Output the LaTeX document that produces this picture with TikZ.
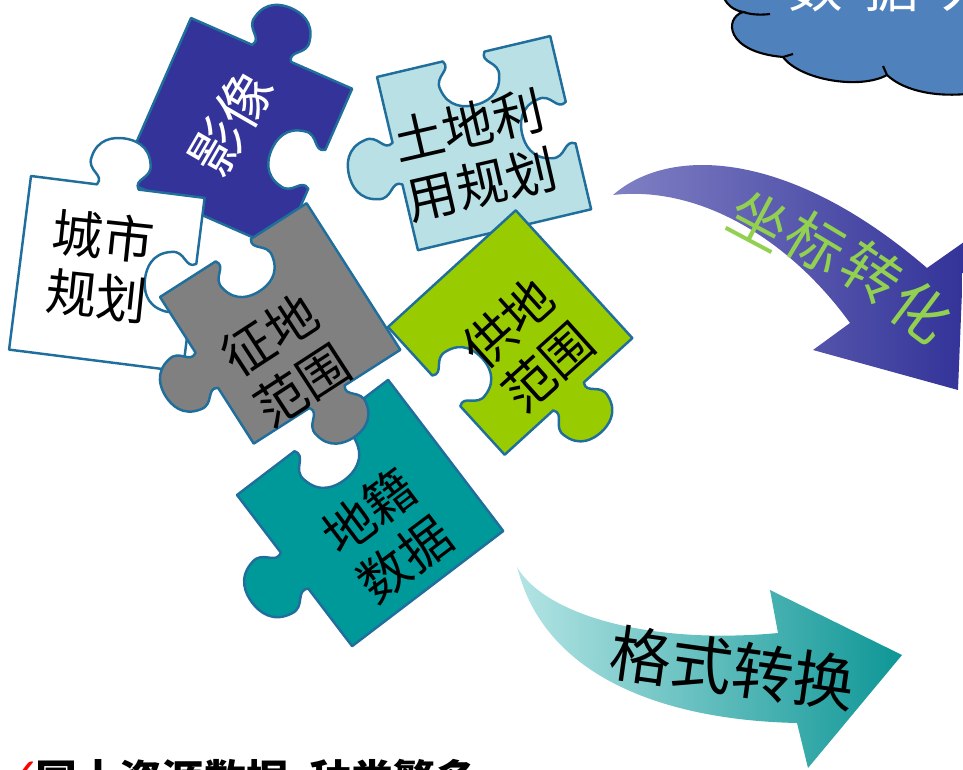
\documentclass[tikz,border=0pt]{standalone}
\usepackage{fontspec}
\setmainfont{Noto Sans CJK SC}
\newfontfamily\symfont{DejaVu Sans}

\definecolor{pieceedge}{HTML}{1F6E9C}
\definecolor{imgblue}{HTML}{333399}
\definecolor{landblue}{HTML}{B9E0E5}
\definecolor{supplygreen}{HTML}{99CC00}
\definecolor{cadastre}{HTML}{009999}
\definecolor{cloudblue}{HTML}{4F81BD}
\definecolor{coordlight}{HTML}{8080C4}
\definecolor{coorddark}{HTML}{333399}
\definecolor{coordtext}{HTML}{92D050}
\definecolor{formatlight}{HTML}{B4E4E4}
\definecolor{formatdark}{HTML}{0E9696}

% points of edge k of a unit piece; s=1 tab, s=-1 blank
\pgfkeys{/knob/.cd,k/.store in=\knobk,s/.store in=\knobs,t/.store in=\knobt,u/.store in=\knobu}
\tikzdeclarecoordinatesystem{knob}{%
  \pgfkeys{/knob/.cd,#1}%
  \pgfmathsetmacro\knobx{.5+(\knobt-.5)*cos(\knobk*90)+(\knobs*\knobu+.5)*sin(\knobk*90)}%
  \pgfmathsetmacro\knoby{.5+(\knobt-.5)*sin(\knobk*90)-(\knobs*\knobu+.5)*cos(\knobk*90)}%
  \pgfpointxy{\knobx}{\knoby}}
\newcommand\pedge[2]{-- (knob cs:k=#1,s=#2,t=.38,u=0)
  .. controls (knob cs:k=#1,s=#2,t=.42,u=.06) and (knob cs:k=#1,s=#2,t=.31,u=.07) .. (knob cs:k=#1,s=#2,t=.33,u=.15)
  .. controls (knob cs:k=#1,s=#2,t=.35,u=.26) and (knob cs:k=#1,s=#2,t=.44,u=.28) .. (knob cs:k=#1,s=#2,t=.5,u=.28)
  .. controls (knob cs:k=#1,s=#2,t=.56,u=.28) and (knob cs:k=#1,s=#2,t=.65,u=.26) .. (knob cs:k=#1,s=#2,t=.67,u=.15)
  .. controls (knob cs:k=#1,s=#2,t=.69,u=.07) and (knob cs:k=#1,s=#2,t=.58,u=.06) .. (knob cs:k=#1,s=#2,t=.62,u=0)
  -- (knob cs:k=#1,s=#2,t=1,u=0)}
\newcommand\fedge[1]{-- (knob cs:k=#1,s=1,t=1,u=0)}

\begin{document}
\begin{tikzpicture}[x=0.02cm,y=-0.02cm,
  piece/.style={draw=pieceedge,line width=1.4pt,line join=round},
  piece text/.style={font=\fontsize{29}{34}\selectfont,align=center,inner sep=0pt},
  arrow text/.style={font=\fontsize{33}{34}\selectfont,inner sep=0pt}]
\path[use as bounding box] (0,0) rectangle (963,770);
\clip (0,0) rectangle (963,770);

% cloud
\draw[fill=cloudblue,line width=1.2pt] (725,-10) -- (725,0) .. controls (730,8) and (737,11) .. (743,12) .. controls (724,18) and (725,52) .. (783,57) .. controls (800,80) and (860,90) .. (887,75) .. controls (905,92) and (940,98) .. (975,93) -- (975,-10) -- cycle;
\draw[line width=1.2pt] (743,12) .. controls (752,15) and (762,15) .. (770,14);
\draw[line width=1.2pt] (783,57) -- (793,54);
\draw[line width=1.2pt] (887,75) -- (883,66);
\node[white,font=\fontsize{31}{31}\selectfont,inner sep=0pt,anchor=base west] (cloudtext) at (788,8) {数\hspace{.44cm}据\hspace{.44cm}入\hspace{.44cm}库};

% pieces
\begin{scope}[shift={(191,18)},rotate=-23.7,scale=176]
\draw[piece,fill=imgblue] (0,0) \pedge{0}{1} \pedge{1}{-1} \fedge{2} \fedge{3} -- cycle;
\end{scope}
\begin{scope}[shift={(31,176)},rotate=-7.2,scale=175]
\draw[piece,fill=white] (0,0) \pedge{0}{1} \pedge{1}{-1} \fedge{2} \fedge{3} -- cycle;
\end{scope}
\begin{scope}[shift={(237,495)},rotate=37.3,scale=190]
\draw[piece,fill=cadastre] (0,0) \pedge{0}{-1} \fedge{1} \fedge{2} \pedge{3}{1} -- cycle;
\end{scope}
\begin{scope}[shift={(160,297)},rotate=32.6,scale=174]
\draw[piece,fill=gray] (0,0) \pedge{0}{-1} \fedge{1} \pedge{2}{1} \pedge{3}{1} -- cycle;
\end{scope}
\begin{scope}[shift={(377,77)},rotate=13.3,scale=178]
\draw[piece,fill=landblue] (0,0) \pedge{0}{-1} \pedge{1}{-1} \fedge{2} \pedge{3}{1} -- cycle;
\end{scope}
\begin{scope}[shift={(388,327)},rotate=42.4,scale=173]
\draw[piece,fill=supplygreen] (0,0) \fedge{0} \fedge{1} \pedge{2}{1} \pedge{3}{-1} -- cycle;
\end{scope}

\node[piece text,white,rotate=60,font=\fontsize{31}{34}\selectfont] (yx) at (231,123) {影像};
\node[piece text,rotate=-6] (cs) at (100,266) {城市\\规划};
\node[piece text,rotate=33] (zd) at (286,360) {征地\\范围};
\node[piece text,rotate=13] (td) at (475,155) {土地利\\用规划};
\node[piece text,rotate=42] (gd) at (528,345) {供地\\范围};
\node[piece text,rotate=37] (dj) at (387,535) {地籍\\数据};

% arrows
\shade[left color=coordlight,right color=coorddark] (613,195) .. controls (670,145) and (790,150) .. (927,268) -- (964,242) -- (958,390) -- (813,350) -- (850,323) .. controls (790,240) and (700,185) .. (613,195) -- cycle;
\foreach \ch/\x/\y/\a [count=\i] in {坐/760/220/-28,标/816/243/-31,转/872/272/-34,化/921/311/-37}
  \node[arrow text,text=coordtext,rotate=\a] (zb\i) at (\x,\y) {\ch};

\shade[left color=formatlight,right color=formatdark] (517,567) .. controls (545,615) and (650,645) .. (778,633) -- (770,590) -- (902,655) -- (808,768) -- (797,723) .. controls (660,720) and (550,675) .. (520,577) -- cycle;
\node[arrow text,font=\fontsize{35}{35}\selectfont,rotate=-8] (gs) at (733,668) {格式转换};

% bottom line
\node[text=red,font=\symfont\fontsize{24}{24}\selectfont,inner sep=0pt,anchor=base west] (tick) at (5,788) {✓};
\node[font=\bfseries\fontsize{24}{24}\selectfont,inner sep=0pt,anchor=base west] (note) at (35,795) {国土资源数据\hspace{.5em}种类繁多};
\end{tikzpicture}
\end{document}
